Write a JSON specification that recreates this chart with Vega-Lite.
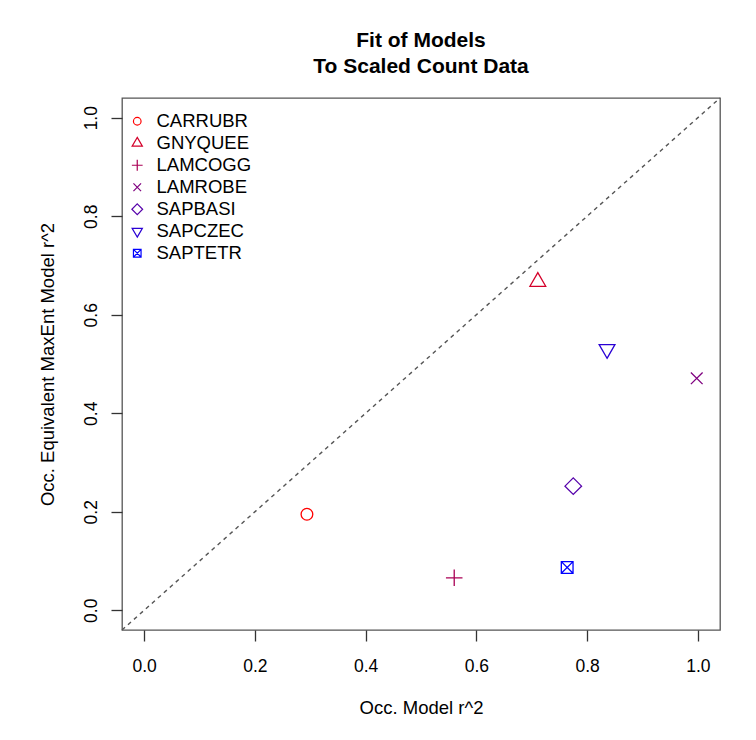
{
  "$schema": "https://vega.github.io/schema/vega-lite/v6.json",
  "width": 598,
  "height": 532,
  "autosize": {"type": "none"},
  "padding": {"left": 122, "top": 98, "right": 36, "bottom": 110},
  "background": "white",
  "title": {
    "text": ["Fit of Models", "To Scaled Count Data"],
    "fontSize": 21,
    "font": "Liberation Sans",
    "fontWeight": "bold",
    "color": "black",
    "anchor": "middle",
    "frame": "group",
    "lineHeight": 26,
    "offset": 18
  },
  "config": {
    "view": {"stroke": "#555", "strokeWidth": 1.3},
    "font": "Liberation Sans"
  },
  "encoding": {
    "x": {
      "field": "x",
      "type": "quantitative",
      "scale": {"domain": [-0.04, 1.04], "nice": false, "zero": false},
      "axis": {
        "title": "Occ. Model r^2",
        "values": [0, 0.2, 0.4, 0.6, 0.8, 1.0],
        "format": ".1f",
        "grid": false,
        "domain": false,
        "tickSize": 11,
        "tickColor": "#333",
        "tickWidth": 1.3,
        "labelFont": "Liberation Sans",
        "labelFontSize": 17.5,
        "labelColor": "black",
        "labelPadding": 16,
        "titleFont": "Liberation Sans",
        "titleFontSize": 18.5,
        "titleFontWeight": "normal",
        "titleColor": "black",
        "titlePadding": 24
      }
    },
    "y": {
      "field": "y",
      "type": "quantitative",
      "scale": {"domain": [-0.04, 1.04], "nice": false, "zero": false},
      "axis": {
        "title": "Occ. Equivalent MaxEnt Model r^2",
        "values": [0, 0.2, 0.4, 0.6, 0.8, 1.0],
        "format": ".1f",
        "grid": false,
        "domain": false,
        "tickSize": 11,
        "tickColor": "#333",
        "tickWidth": 1.3,
        "labelFont": "Liberation Sans",
        "labelFontSize": 17.5,
        "labelColor": "black",
        "labelAngle": 270,
        "labelAlign": "center",
        "labelBaseline": "bottom",
        "labelPadding": 11,
        "titleFont": "Liberation Sans",
        "titleFontSize": 18.5,
        "titleFontWeight": "normal",
        "titleColor": "black",
        "titlePadding": 25
      }
    }
  },
  "layer": [
    {
      "data": {"values": [{"x": -0.04, "y": -0.04}, {"x": 1.04, "y": 1.04}]},
      "mark": {"type": "line", "strokeDash": [4, 4], "color": "#555", "strokeWidth": 1.4}
    },
    {
      "data": {
        "values": [
          {"species": "CARRUBR", "x": 0.294, "y": 0.195},
          {"species": "GNYQUEE", "x": 0.711, "y": 0.667},
          {"species": "LAMCOGG", "x": 0.560, "y": 0.066},
          {"species": "LAMROBE", "x": 0.998, "y": 0.471},
          {"species": "SAPBASI", "x": 0.775, "y": 0.252},
          {"species": "SAPCZEC", "x": 0.836, "y": 0.530},
          {"species": "SAPTETR", "x": 0.764, "y": 0.087}
        ]
      },
      "mark": {"type": "point", "filled": false, "size": 137, "strokeWidth": 1.3, "opacity": 1},
      "encoding": {
        "color": {
          "field": "species",
          "type": "nominal",
          "scale": {
            "domain": ["CARRUBR", "GNYQUEE", "LAMCOGG", "LAMROBE", "SAPBASI", "SAPCZEC", "SAPTETR"],
            "range": ["#FF0000", "#D4002A", "#AA0055", "#7F007F", "#5500AA", "#2A00D4", "#0000FF"]
          },
          "legend": {
            "title": null,
            "orient": "none",
            "legendX": 6,
            "legendY": 14,
            "padding": 0,
            "labelFont": "Liberation Sans",
            "labelFontSize": 18.5,
            "symbolSize": 58,
            "symbolStrokeWidth": 1.2,
            "labelOffset": 10,
            "rowPadding": 3,
            "encode": {"labels": {"fill": {"value": {"expr": "scale('color', datum.value)"}}}}
          }
        },
        "shape": {
          "field": "species",
          "type": "nominal",
          "scale": {
            "domain": ["CARRUBR", "GNYQUEE", "LAMCOGG", "LAMROBE", "SAPBASI", "SAPCZEC", "SAPTETR"],
            "range": [
              "circle",
              "M0,-1.555L1.347,0.778L-1.347,0.778Z",
              "M-1.414,0H1.414M0,-1.414V1.414",
              "M-1,-1L1,1M-1,1L1,-1",
              "M0,-1.414L1.414,0L0,1.414L-1.414,0Z",
              "M0,1.555L1.347,-0.778L-1.347,-0.778Z",
              "M-1,-1H1V1H-1ZM-1,-1L1,1M-1,1L1,-1"
            ]
          },
          "legend": {
            "title": null,
            "orient": "none",
            "legendX": 6,
            "legendY": 14,
            "padding": 0,
            "labelFont": "Liberation Sans",
            "labelFontSize": 18.5,
            "symbolSize": 58,
            "symbolStrokeWidth": 1.2,
            "labelOffset": 10,
            "rowPadding": 3,
            "encode": {"labels": {"fill": {"value": {"expr": "scale('color', datum.value)"}}}}
          }
        }
      }
    }
  ]
}
